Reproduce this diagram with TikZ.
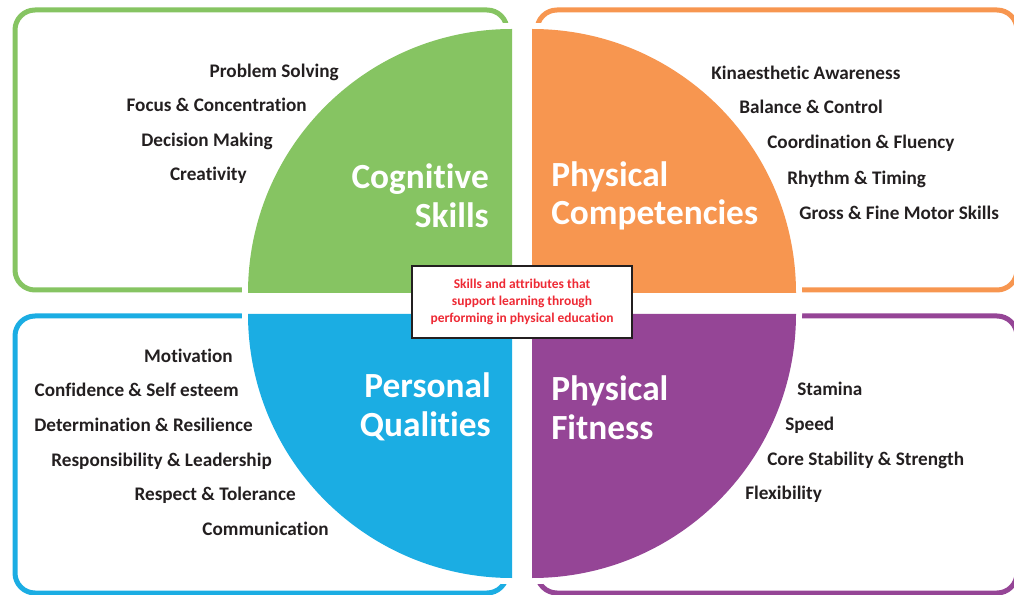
\documentclass[tikz,border=0pt]{standalone}
\usepackage{fontspec}
\setmainfont{Carlito}[Ligatures=NoCommon]
\usetikzlibrary{positioning}

\definecolor{cogGreen}{HTML}{86C462}
\definecolor{physOrange}{HTML}{F79650}
\definecolor{persBlue}{HTML}{1BADE3}
\definecolor{fitPurple}{HTML}{954596}
\definecolor{itemGray}{HTML}{231F20}
\definecolor{boxRed}{HTML}{EE2A35}

\tikzset{
  frame/.style={line width=3.75pt, rounded corners=15pt},
  quad/.style={preaction={draw=white, line width=9pt}},
  title/.style={text=white, inner sep=0pt, font=\fontsize{26.5}{29}\selectfont\bfseries},
  item/.style={text=itemGray, inner sep=0pt, text height=9.3pt, text depth=0pt,
    font=\fontsize{14.4}{17}\selectfont\bfseries},
  itemL/.style={item, anchor=east},
  itemR/.style={item, anchor=west},
}

\begin{document}
\begin{tikzpicture}[x=0.75pt, y=-0.75pt]
  \useasboundingbox (0,0) rectangle (1014,595);
  \clip (0,0) rectangle (1014,595);

  % outer frames
  \draw[frame, cogGreen]   (15,10)   rectangle (507,290);
  \draw[frame, physOrange] (537,10)  rectangle (1017,290);
  \draw[frame, persBlue]   (15,316)  rectangle (507,593);
  \draw[frame, fitPurple]  (537,316) rectangle (1017,593);

  % the four quarter discs
  \fill[quad, cogGreen]   (512,293) -- ++(-264,0) arc[start angle=180, end angle=270, radius=264] -- cycle;
  \fill[quad, physOrange] (532,293) -- ++(0,-264) arc[start angle=270, end angle=360, radius=264] -- cycle;
  \fill[quad, fitPurple]  (532,314) -- ++(264,0)  arc[start angle=0,   end angle=90,  radius=264] -- cycle;
  \fill[quad, persBlue]   (512,314) -- ++(0,264)  arc[start angle=90,  end angle=180, radius=264] -- cycle;

  % headings
  \node[title, anchor=east, align=right] (cog)  at (489,196) {Cognitive\\Skills};
  \node[title, anchor=west, align=left]  (comp) at (551,196) {Physical\\Competencies};
  \node[title, anchor=east, align=right] (pers) at (491,407) {Personal\\Qualities};
  \node[title, anchor=west, align=left]  (fit)  at (551,408) {Physical\\Fitness};

  % cognitive skills
  \node[itemL] (probsolv) at (339,71)  {Problem Solving};
  \node[itemL] (focus)    at (307,105) {Focus \& Concentration};
  \node[itemL] (decision) at (273,140) {Decision Making};
  \node[itemL] (creative) at (247,174) {Creativity};

  % physical competencies
  \node[itemR] (kinaes)   at (711,73)  {Kinaesthetic Awareness};
  \node[itemR] (balance)  at (739,107) {Balance \& Control};
  \node[itemR] (coord)    at (767,142) {Coordination \& Fluency};
  \node[itemR] (rhythm)   at (787,178) {Rhythm \& Timing};
  \node[itemR] (motor)    at (799,213) {Gross \& Fine Motor Skills};

  % personal qualities
  \node[itemL] (motiv)    at (233,356) {Motivation};
  \node[itemL] (confid)   at (239,390) {Confidence \& Self esteem};
  \node[itemL] (determ)   at (253,425) {Determination \& Resilience};
  \node[itemL] (respons)  at (272,460) {Responsibility \& Leadership};
  \node[itemL] (respect)  at (296,494) {Respect \& Tolerance};
  \node[itemL] (commun)   at (329,529) {Communication};

  % physical fitness
  \node[itemR] (stamina)  at (797,389) {Stamina};
  \node[itemR] (speed)    at (785,424) {Speed};
  \node[itemR] (core)     at (767,459) {Core Stability \& Strength};
  \node[itemR] (flex)     at (745,493) {Flexibility};

  % centre caption
  \node[draw=itemGray, line width=1.9pt, fill=white, text=boxRed, align=center,
        minimum width=165pt, minimum height=54pt,
        font=\fontsize{10.1}{12.75}\selectfont\bfseries] (caption) at (522,302)
        {Skills and attributes that\\support learning through\\performing in physical education};
\end{tikzpicture}
\end{document}
